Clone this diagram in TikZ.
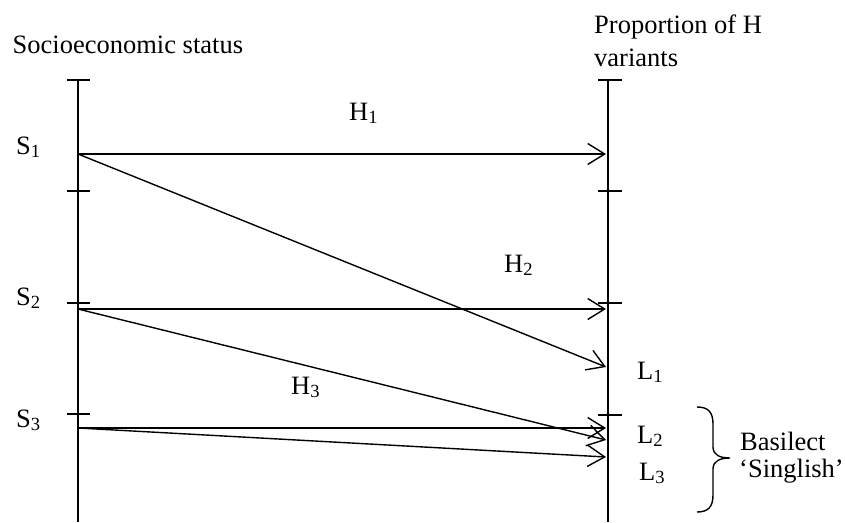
\documentclass[tikz,border=0pt]{standalone}
\usepackage{fontspec}
\setmainfont{Liberation Serif}
\usetikzlibrary{arrows.meta}
\begin{document}
\begin{tikzpicture}[x=1pt,y=-1pt,
  axisline/.style={line width=1.4pt},
  tickline/.style={line width=1.4pt},
  link/.style={line width=1.4pt,-{Straight Barb[length=17pt,width=21pt]}},
  bracepath/.style={line width=1.4pt},
  lbl/.style={font=\fontsize{26.5}{33}\selectfont, inner sep=0pt, anchor=base west},
]
\useasboundingbox (0,0) rectangle (845,522);

% axes
\coordinate (ltop) at (78,80);
\coordinate (lbot) at (78,522);
\coordinate (rtop) at (608,80);
\coordinate (rbot) at (608,522);
\draw[axisline] (ltop) -- (lbot);
\draw[axisline] (rtop) -- (rbot);

% ticks
\foreach \yy [count=\i] in {80,191,303,414}{
  \coordinate (lta\i) at (67,\yy);
  \coordinate (ltb\i) at (90,\yy);
  \draw[tickline] (lta\i) -- (ltb\i);
}
\foreach \yy [count=\i] in {80,191,303,415}{
  \coordinate (rta\i) at (598,\yy);
  \coordinate (rtb\i) at (622,\yy);
  \draw[tickline] (rta\i) -- (rtb\i);
}

% sources and targets
\coordinate (s1) at (78,154);
\coordinate (s2) at (78,309);
\coordinate (s3) at (78,428);
\coordinate (t1) at (606,154);
\coordinate (t2) at (606,367);
\coordinate (t3) at (606,309);
\coordinate (t4) at (606,440);
\coordinate (t5) at (606,428);
\coordinate (t6) at (606,457);

\draw[link] (s1) -- (t1);
\draw[link] (s1) -- (t2);
\draw[link] (s2) -- (t3);
\draw[link] (s2) -- (t4);
\draw[link] (s3) -- (t5);
\draw[link] (s3) -- (t6);

% titles
\node[lbl] (socio) at (12.5,53) {Socioeconomic status};
\node[lbl] (prop1) at (594,33) {Proportion of H};
\node[lbl] (prop2) at (594,66) {variants};

% S labels
\node[lbl] (S1) at (16,154) {S\textsubscript{1}};
\node[lbl] (S2) at (16,305) {S\textsubscript{2}};
\node[lbl] (S3) at (16,427) {S\textsubscript{3}};

% H labels
\node[lbl] (H1) at (349,120) {H\textsubscript{1}};
\node[lbl] (H2) at (504,272) {H\textsubscript{2}};
\node[lbl] (H3) at (291,394) {H\textsubscript{3}};

% L labels
\node[lbl] (L1) at (637,379) {L\textsubscript{1}};
\node[lbl] (L2) at (637,443) {L\textsubscript{2}};
\node[lbl] (L3) at (639,480) {L\textsubscript{3}};

% brace
\coordinate (bt) at (697,407);
\coordinate (bm) at (730,458);
\coordinate (bb) at (697,512);
\draw[bracepath] (bt) .. controls (708,407) and (713,412) .. (713,424)
  -- (713,447) .. controls (713,455) and (720,458) .. (bm)
  .. controls (720,458) and (713,461) .. (713,469)
  -- (713,495) .. controls (713,507) and (708,512) .. (bb);

\node[lbl] (bas1) at (740,450) {Basilect};
\node[lbl] (bas2) at (739,477) {‘Singlish’};
\end{tikzpicture}
\end{document}
